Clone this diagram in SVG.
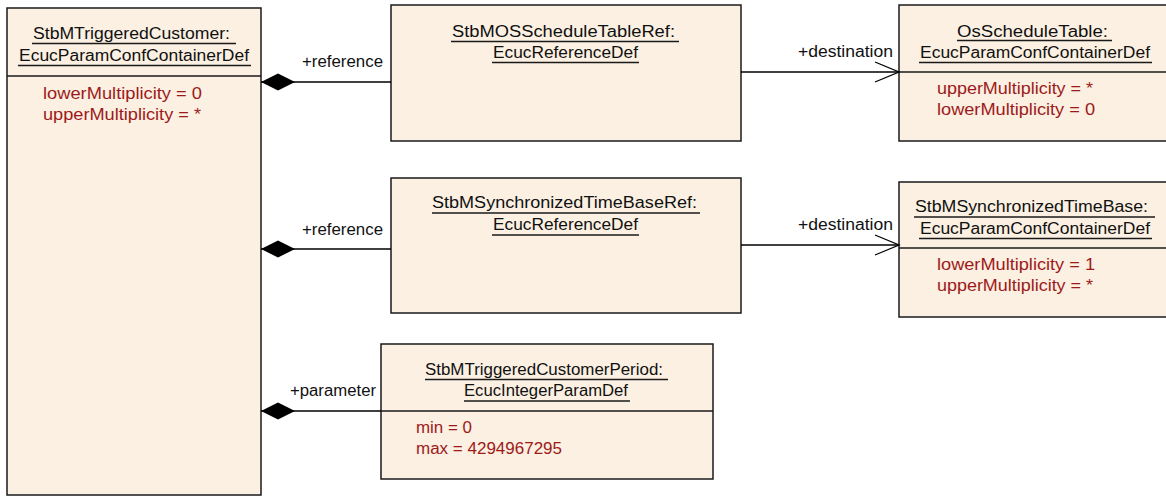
<svg xmlns="http://www.w3.org/2000/svg" width="1166" height="496" viewBox="0 0 1166 496">
<style>
.box{fill:#FBF0E2;stroke:#1a1a1a;stroke-width:1.5}
.sep{stroke:#1a1a1a;stroke-width:1.5}
.ul{stroke:#1a1a1a;stroke-width:1.3}
.t{font-family:"Liberation Sans",Arial,sans-serif;font-size:16px;fill:#111}
.a{font-family:"Liberation Sans",Arial,sans-serif;font-size:16px;fill:#9E1A1A}
.c{stroke:#000;stroke-width:1.3;fill:none}
</style>
<defs>
<marker id="dia" viewBox="0 -10 36 20" refX="0" refY="0" markerWidth="36" markerHeight="20" markerUnits="userSpaceOnUse" orient="auto" overflow="visible">
<path d="M0,0 L17,-8.5 L34,0 L17,8.5 Z" fill="#000"/>
</marker>
<marker id="arr" viewBox="-26 -12 28 24" refX="0" refY="0" markerWidth="28" markerHeight="24" markerUnits="userSpaceOnUse" orient="auto" overflow="visible">
<path d="M-24,-10 L0,0 L-24,10" fill="none" stroke="#000" stroke-width="1.3"/>
</marker>
</defs>

<g id="StbMTriggeredCustomer">
<rect class="box" x="7" y="8" width="254" height="487"/>
<line class="sep" x1="7" y1="76" x2="261" y2="76"/>
<text class="t" x="33" y="39" textLength="197" lengthAdjust="spacingAndGlyphs">StbMTriggeredCustomer:</text>
<line class="ul" x1="32" y1="43.5" x2="236" y2="43.5"/>
<text class="t" x="19" y="61" textLength="230" lengthAdjust="spacingAndGlyphs">EcucParamConfContainerDef</text>
<line class="ul" x1="18" y1="65.5" x2="251" y2="65.5"/>
<text class="a" x="43" y="99" textLength="159" lengthAdjust="spacingAndGlyphs">lowerMultiplicity = 0</text>
<text class="a" x="43" y="120" textLength="158" lengthAdjust="spacingAndGlyphs">upperMultiplicity = *</text>
</g>

<g id="StbMOSScheduleTableRef">
<rect class="box" x="391" y="5" width="350" height="136"/>
<text class="t" x="452" y="37" textLength="223" lengthAdjust="spacingAndGlyphs">StbMOSScheduleTableRef:</text>
<line class="ul" x1="451" y1="41.5" x2="679" y2="41.5"/>
<text class="t" x="493" y="58" textLength="145" lengthAdjust="spacingAndGlyphs">EcucReferenceDef</text>
<line class="ul" x1="492" y1="62.5" x2="639" y2="62.5"/>
</g>

<g id="OsScheduleTable">
<rect class="box" x="899" y="5" width="275" height="136"/>
<line class="sep" x1="899" y1="72" x2="1170" y2="72"/>
<text class="t" x="957" y="37" textLength="151" lengthAdjust="spacingAndGlyphs">OsScheduleTable:</text>
<line class="ul" x1="957" y1="40.5" x2="1112" y2="40.5"/>
<text class="t" x="920" y="58" textLength="230" lengthAdjust="spacingAndGlyphs">EcucParamConfContainerDef</text>
<line class="ul" x1="919" y1="62.5" x2="1152" y2="62.5"/>
<text class="a" x="937" y="94" textLength="156" lengthAdjust="spacingAndGlyphs">upperMultiplicity = *</text>
<text class="a" x="937" y="115" textLength="158" lengthAdjust="spacingAndGlyphs">lowerMultiplicity = 0</text>
</g>

<g id="StbMSynchronizedTimeBaseRef">
<rect class="box" x="391" y="178" width="350" height="135"/>
<text class="t" x="432" y="208" textLength="265" lengthAdjust="spacingAndGlyphs">StbMSynchronizedTimeBaseRef:</text>
<line class="ul" x1="432" y1="213" x2="700" y2="213"/>
<text class="t" x="493" y="230" textLength="145" lengthAdjust="spacingAndGlyphs">EcucReferenceDef</text>
<line class="ul" x1="492" y1="235" x2="639" y2="235"/>
</g>

<g id="StbMSynchronizedTimeBase">
<rect class="box" x="899" y="182" width="275" height="135"/>
<line class="sep" x1="899" y1="248" x2="1170" y2="248"/>
<text class="t" x="915" y="212" textLength="233" lengthAdjust="spacingAndGlyphs">StbMSynchronizedTimeBase:</text>
<line class="ul" x1="914" y1="217" x2="1155" y2="217"/>
<text class="t" x="920" y="234" textLength="230" lengthAdjust="spacingAndGlyphs">EcucParamConfContainerDef</text>
<line class="ul" x1="919" y1="238.5" x2="1152" y2="238.5"/>
<text class="a" x="937" y="270" textLength="158" lengthAdjust="spacingAndGlyphs">lowerMultiplicity = 1</text>
<text class="a" x="937" y="291" textLength="156" lengthAdjust="spacingAndGlyphs">upperMultiplicity = *</text>
</g>

<g id="StbMTriggeredCustomerPeriod">
<rect class="box" x="381" y="344" width="332" height="135"/>
<line class="sep" x1="381" y1="411" x2="713" y2="411"/>
<text class="t" x="425" y="375" textLength="238" lengthAdjust="spacingAndGlyphs">StbMTriggeredCustomerPeriod:</text>
<line class="ul" x1="425" y1="379.5" x2="668" y2="379.5"/>
<text class="t" x="464" y="396" textLength="164" lengthAdjust="spacingAndGlyphs">EcucIntegerParamDef</text>
<line class="ul" x1="464" y1="401" x2="630" y2="401"/>
<text class="a" x="416" y="433" textLength="56" lengthAdjust="spacingAndGlyphs">min = 0</text>
<text class="a" x="416" y="454" textLength="146" lengthAdjust="spacingAndGlyphs">max = 4294967295</text>
</g>

<g id="connectors">
<line class="c" x1="261" y1="82" x2="391" y2="82" marker-start="url(#dia)"/>
<text class="t" x="302" y="67" textLength="81" lengthAdjust="spacingAndGlyphs">+reference</text>
<line class="c" x1="741" y1="72" x2="899" y2="72" marker-end="url(#arr)"/>
<text class="t" x="798" y="57" textLength="95" lengthAdjust="spacingAndGlyphs">+destination</text>
<line class="c" x1="261" y1="249" x2="391" y2="249" marker-start="url(#dia)"/>
<text class="t" x="302" y="235" textLength="81" lengthAdjust="spacingAndGlyphs">+reference</text>
<line class="c" x1="741" y1="245" x2="899" y2="245" marker-end="url(#arr)"/>
<text class="t" x="798" y="230" textLength="95" lengthAdjust="spacingAndGlyphs">+destination</text>
<line class="c" x1="261" y1="411" x2="381" y2="411" marker-start="url(#dia)"/>
<text class="t" x="290" y="396" textLength="86" lengthAdjust="spacingAndGlyphs">+parameter</text>
</g>
</svg>
